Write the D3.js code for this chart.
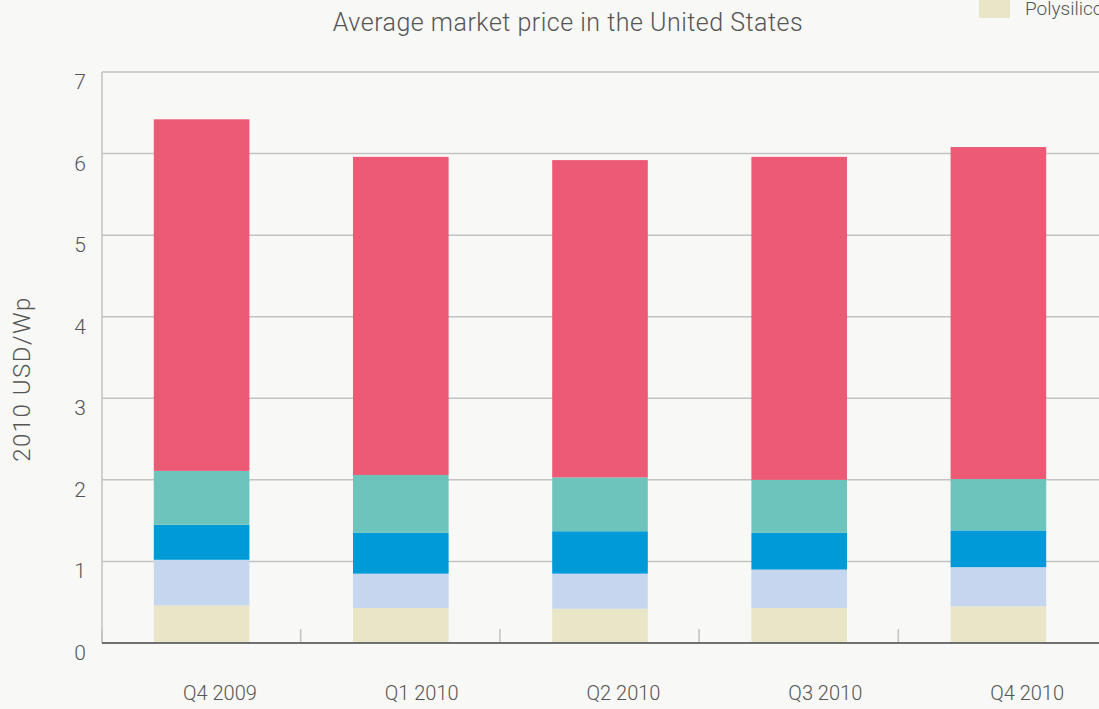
<!DOCTYPE html>
<meta charset="utf-8">
<style>
    body {
        margin: 0;
        padding: 0;
        background: #f8f8f6;
        font-family: Roboto, "Open Sans", sans-serif;
        font-weight: 300;
    }

    svg {
        display: block;
    }

    .grid line {
        stroke: #c2c2c2;
        stroke-width: 1.5px;
    }

    text {
        fill: #555555;
    }
</style>
<svg width="1099" height="709"></svg>
<script src="https://d3js.org/d3.v7.min.js"></script>
<script>
    var quarters = ["Q4 2009", "Q1 2010", "Q2 2010", "Q3 2010", "Q4 2010"];
    var seriesNames = ["Polysilicon", "Wafer", "Cell", "Module", "Installation"];
    var polysilicon = [0.46, 0.43, 0.42, 0.43, 0.45];
    var wafer = [0.56, 0.42, 0.43, 0.47, 0.48];
    var cell = [0.43, 0.50, 0.52, 0.45, 0.45];
    var module = [0.66, 0.71, 0.66, 0.65, 0.63];
    var installation = [4.31, 3.90, 3.89, 3.96, 4.07];
    var yTicks = [0, 1, 2, 3, 4, 5, 6, 7];
    var colors = ["#e9e6c7", "#c6d6ef", "#009ad8", "#6dc4bc", "#ec5a75"];

    var svg = d3.select("svg");
    // (plain "top" is taken by window.top, so prefix these)
    var plotLeft = 102, plotRight = 1098, plotTop = 72, plotBottom = 643;

    var rows = quarters.map(function(q, i) {
        return {
            quarter: q,
            Polysilicon: polysilicon[i],
            Wafer: wafer[i],
            Cell: cell[i],
            Module: module[i],
            Installation: installation[i]
        };
    });

    var stacked = d3.stack().keys(seriesNames)(rows);

    var x = d3.scaleBand()
        .domain(quarters)
        .range([plotLeft, plotRight])
        .paddingInner(0.52)
        .paddingOuter(0.26);

    // the category labels sit a little to the right of the bars
    var xLabel = d3.scaleBand()
        .domain(quarters)
        .range([119, 1128]);

    var y = d3.scaleLinear()
        .domain([0, 7])
        .range([plotBottom, plotTop]);

    var color = d3.scaleOrdinal().domain(seriesNames).range(colors);

    // gridlines
    svg.append("g")
        .attr("class", "grid")
        .selectAll("line")
        .data(yTicks.filter(function(d) { return d > 0; }))
        .enter().append("line")
        .attr("x1", plotLeft)
        .attr("x2", 1099)
        .attr("y1", function(d) { return y(d); })
        .attr("y2", function(d) { return y(d); });

    svg.append("line")
        .attr("x1", plotLeft).attr("x2", plotLeft)
        .attr("y1", y(7)).attr("y2", y(0))
        .attr("stroke", "#c2c2c2")
        .attr("stroke-width", 1.5);

    // small ticks between categories
    var step = x.step();
    var tickX = [plotLeft].concat(quarters.slice(1).map(function(q) {
        return x(q) - x.paddingInner() * step / 2 - 0.5;
    }));
    svg.append("g")
        .selectAll("line")
        .data(tickX)
        .enter().append("line")
        .attr("x1", function(d) { return d; })
        .attr("x2", function(d) { return d; })
        .attr("y1", plotBottom)
        .attr("y2", plotBottom - 14)
        .attr("stroke", "#c2c2c2")
        .attr("stroke-width", 1.5);

    // bars
    svg.append("g")
        .selectAll("g")
        .data(stacked)
        .enter().append("g")
        .attr("fill", function(d) { return color(d.key); })
        .selectAll("rect")
        .data(function(d) { return d; })
        .enter().append("rect")
        .attr("x", function(d) { return x(d.data.quarter); })
        .attr("width", x.bandwidth())
        .attr("y", function(d) { return y(d[1]); })
        .attr("height", function(d) { return y(d[0]) - y(d[1]); });

    // baseline
    svg.append("line")
        .attr("x1", plotLeft).attr("x2", 1099)
        .attr("y1", plotBottom).attr("y2", plotBottom)
        .attr("stroke", "#707070")
        .attr("stroke-width", 2);

    // y labels
    svg.append("g")
        .selectAll("text")
        .data(yTicks)
        .enter().append("text")
        .attr("x", 86)
        .attr("y", function(d) { return y(d) + 17; })
        .attr("text-anchor", "end")
        .style("font-size", "21px")
        .text(function(d) { return d; });

    // x labels
    svg.append("g")
        .selectAll("text")
        .data(quarters)
        .enter().append("text")
        .attr("x", function(d) { return xLabel(d) + xLabel.bandwidth() / 2; })
        .attr("y", 700)
        .attr("text-anchor", "middle")
        .style("font-size", "20px")
        .text(function(d) { return d; });

    svg.append("text")
        .attr("transform", "translate(30,379) rotate(-90)")
        .attr("text-anchor", "middle")
        .style("font-size", "24px")
        .style("letter-spacing", "1.5px")
        .text("2010 USD/Wp");

    svg.append("text")
        .attr("x", 568)
        .attr("y", 31)
        .attr("text-anchor", "middle")
        .style("font-size", "25px")
        .style("letter-spacing", "0.5px")
        .text("Average market price in the United States");

    // legend (cut off at the right edge, as in the original)
    svg.append("rect")
        .attr("x", 979).attr("y", 0)
        .attr("width", 31).attr("height", 18)
        .attr("fill", color("Polysilicon"));
    svg.append("text")
        .attr("x", 1025).attr("y", 15)
        .style("font-size", "19px")
        .text("Polysilicon");
</script>
